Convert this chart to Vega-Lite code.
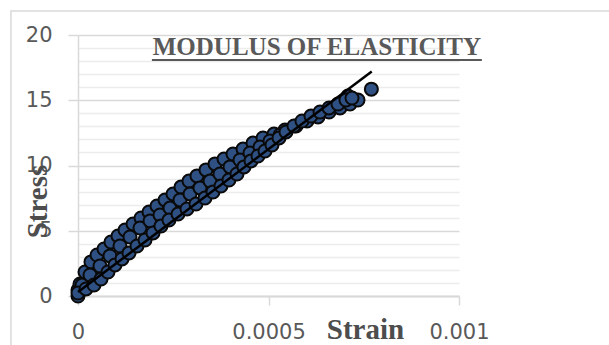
{
  "$schema": "https://vega.github.io/schema/vega-lite/v6.json",
  "autosize": {"type": "none"},
  "padding": {"left": 78, "top": 35, "right": 150, "bottom": 49},
  "width": 381,
  "height": 261,
  "background": "white",
  "config": {"view": {"stroke": null}},
  "datasets": {
    "points": [
      {"strain": 0, "stress": 0, "series": "upper"},
      {"strain": 0, "stress": 0.46, "series": "upper"},
      {"strain": 0.0000052, "stress": 0.92, "series": "upper"},
      {"strain": 0.0000184, "stress": 1.84, "series": "upper"},
      {"strain": 0.0000341, "stress": 2.61, "series": "upper"},
      {"strain": 0.0000499, "stress": 3.14, "series": "upper"},
      {"strain": 0.0000682, "stress": 3.6, "series": "upper"},
      {"strain": 0.0000866, "stress": 4.14, "series": "upper"},
      {"strain": 0.000105, "stress": 4.6, "series": "upper"},
      {"strain": 0.0001234, "stress": 5.06, "series": "upper"},
      {"strain": 0.0001444, "stress": 5.52, "series": "upper"},
      {"strain": 0.0001654, "stress": 5.98, "series": "upper"},
      {"strain": 0.0001864, "stress": 6.44, "series": "upper"},
      {"strain": 0.0002073, "stress": 6.9, "series": "upper"},
      {"strain": 0.0002283, "stress": 7.36, "series": "upper"},
      {"strain": 0.0002493, "stress": 7.82, "series": "upper"},
      {"strain": 0.0002703, "stress": 8.35, "series": "upper"},
      {"strain": 0.0002913, "stress": 8.81, "series": "upper"},
      {"strain": 0.0003123, "stress": 9.2, "series": "upper"},
      {"strain": 0.000336, "stress": 9.66, "series": "upper"},
      {"strain": 0.0003596, "stress": 10.12, "series": "upper"},
      {"strain": 0.0003832, "stress": 10.5, "series": "upper"},
      {"strain": 0.0004068, "stress": 10.88, "series": "upper"},
      {"strain": 0.0004331, "stress": 11.26, "series": "upper"},
      {"strain": 0.0004593, "stress": 11.72, "series": "upper"},
      {"strain": 0.0004856, "stress": 12.11, "series": "upper"},
      {"strain": 0.0005144, "stress": 12.41, "series": "upper"},
      {"strain": 0.0005433, "stress": 12.72, "series": "upper"},
      {"strain": 0.0005722, "stress": 13.03, "series": "upper"},
      {"strain": 0.000601, "stress": 13.41, "series": "upper"},
      {"strain": 0.0006299, "stress": 13.72, "series": "upper"},
      {"strain": 0.0006588, "stress": 14.1, "series": "upper"},
      {"strain": 0.0006877, "stress": 14.41, "series": "upper"},
      {"strain": 0.0007087, "stress": 15.33, "series": "upper"},
      {"strain": 0.0007139, "stress": 14.71, "series": "upper"},
      {"strain": 0.0007349, "stress": 15.02, "series": "upper"},
      {"strain": 0.00077, "stress": 15.85, "series": "upper"},
      {"strain": 0.0000105, "stress": 0.84, "series": "middle"},
      {"strain": 0.0000315, "stress": 1.61, "series": "middle"},
      {"strain": 0.0000577, "stress": 2.3, "series": "middle"},
      {"strain": 0.000084, "stress": 3.07, "series": "middle"},
      {"strain": 0.0001102, "stress": 3.83, "series": "middle"},
      {"strain": 0.0001365, "stress": 4.52, "series": "middle"},
      {"strain": 0.0001627, "stress": 5.21, "series": "middle"},
      {"strain": 0.000189, "stress": 5.75, "series": "middle"},
      {"strain": 0.0002152, "stress": 6.21, "series": "middle"},
      {"strain": 0.0002415, "stress": 6.74, "series": "middle"},
      {"strain": 0.0002677, "stress": 7.36, "series": "middle"},
      {"strain": 0.000294, "stress": 7.82, "series": "middle"},
      {"strain": 0.0003202, "stress": 8.28, "series": "middle"},
      {"strain": 0.0003465, "stress": 8.81, "series": "middle"},
      {"strain": 0.0003727, "stress": 9.35, "series": "middle"},
      {"strain": 0.000399, "stress": 9.89, "series": "middle"},
      {"strain": 0.0004252, "stress": 10.42, "series": "middle"},
      {"strain": 0.0004514, "stress": 10.96, "series": "middle"},
      {"strain": 0.0004777, "stress": 11.42, "series": "middle"},
      {"strain": 0.0005039, "stress": 11.88, "series": "middle"},
      {"strain": 0.0005302, "stress": 12.34, "series": "middle"},
      {"strain": 0, "stress": 0.23, "series": "lower"},
      {"strain": 0.000021, "stress": 0.54, "series": "lower"},
      {"strain": 0.000042, "stress": 0.84, "series": "lower"},
      {"strain": 0.0000604, "stress": 1.3, "series": "lower"},
      {"strain": 0.0000787, "stress": 1.84, "series": "lower"},
      {"strain": 0.0000971, "stress": 2.38, "series": "lower"},
      {"strain": 0.0001155, "stress": 2.84, "series": "lower"},
      {"strain": 0.0001339, "stress": 3.3, "series": "lower"},
      {"strain": 0.0001549, "stress": 3.83, "series": "lower"},
      {"strain": 0.0001759, "stress": 4.29, "series": "lower"},
      {"strain": 0.0001969, "stress": 4.83, "series": "lower"},
      {"strain": 0.0002178, "stress": 5.36, "series": "lower"},
      {"strain": 0.0002388, "stress": 5.82, "series": "lower"},
      {"strain": 0.0002625, "stress": 6.28, "series": "lower"},
      {"strain": 0.0002861, "stress": 6.67, "series": "lower"},
      {"strain": 0.0003097, "stress": 7.05, "series": "lower"},
      {"strain": 0.0003333, "stress": 7.51, "series": "lower"},
      {"strain": 0.0003543, "stress": 7.97, "series": "lower"},
      {"strain": 0.0003753, "stress": 8.43, "series": "lower"},
      {"strain": 0.0003963, "stress": 8.89, "series": "lower"},
      {"strain": 0.0004173, "stress": 9.35, "series": "lower"},
      {"strain": 0.0004357, "stress": 9.89, "series": "lower"},
      {"strain": 0.0004541, "stress": 10.35, "series": "lower"},
      {"strain": 0.0004724, "stress": 10.73, "series": "lower"},
      {"strain": 0.0004908, "stress": 11.11, "series": "lower"},
      {"strain": 0.0005092, "stress": 11.57, "series": "lower"},
      {"strain": 0.0005276, "stress": 12.11, "series": "lower"},
      {"strain": 0.0005459, "stress": 12.57, "series": "lower"},
      {"strain": 0.0005669, "stress": 13.03, "series": "lower"},
      {"strain": 0.0005879, "stress": 13.41, "series": "lower"},
      {"strain": 0.0006115, "stress": 13.79, "series": "lower"},
      {"strain": 0.0006352, "stress": 14.1, "series": "lower"},
      {"strain": 0.0006588, "stress": 14.41, "series": "lower"},
      {"strain": 0.0006824, "stress": 14.71, "series": "lower"},
      {"strain": 0.0007034, "stress": 15.02, "series": "lower"},
      {"strain": 0.0007192, "stress": 15.17, "series": "lower"}
    ],
    "trend": [
      {"strain": 0, "stress": 0.3},
      {"strain": 0.000771, "stress": 17.2}
    ],
    "single": [{}]
  },
  "layer": [
    {
      "data": {"name": "points"},
      "mark": {"type": "point", "shape": "circle", "filled": true, "size": 170, "fill": "#2f5082", "stroke": "#0a0a0a", "strokeWidth": 2, "opacity": 1},
      "encoding": {
        "x": {
          "field": "strain", "type": "quantitative",
          "scale": {"domain": [0, 0.001], "nice": false, "zero": false},
          "axis": {
            "values": [0, 0.0005, 0.001],
            "tickCount": 3,
            "format": "~g",
            "grid": false,
            "domainColor": "#d9d9d9",
            "domainWidth": 2,
            "tickColor": "#d9d9d9",
            "tickWidth": 1.5,
            "tickSize": 9,
            "labelFont": "DejaVu Sans",
            "labelFontSize": 21,
            "labelColor": "#595959",
            "labelPadding": 16,
            "labelFlush": false,
            "labelOverlap": false,
            "title": "Strain",
            "titleFont": "Liberation Serif",
            "titleFontWeight": "bold",
            "titleFontSize": 29,
            "titleColor": "#4d4d4d",
            "titleX": 287,
            "titleY": 42,
            "titleAlign": "center",
            "titleBaseline": "alphabetic"
          }
        },
        "y": {
          "field": "stress", "type": "quantitative",
          "scale": {"domain": [0, 20], "nice": false},
          "axis": {
            "values": [0, 1, 2, 3, 4, 5, 6, 7, 8, 9, 10, 11, 12, 13, 14, 15, 16, 17, 18, 19, 20],
            "tickCount": 40,
            "format": "d",
            "labelExpr": "datum.value % 5 === 0 ? datum.label : ''",
            "labelOverlap": false,
            "grid": true,
            "gridColor": {"condition": {"test": "datum.value % 5 === 0", "value": "#d9d9d9"}, "value": "#ececec"},
            "gridWidth": 1.5,
            "domainColor": "#d9d9d9",
            "domainWidth": 1.5,
            "tickColor": "#d9d9d9",
            "tickOpacity": {"condition": {"test": "datum.value % 5 === 0", "value": 1}, "value": 0},
            "tickSize": 10,
            "tickWidth": 1.5,
            "labelFont": "DejaVu Sans",
            "labelFontSize": 21,
            "labelColor": "#595959",
            "labelPadding": 16,
            "labelFlush": false,
            "title": "Stress",
            "titleFont": "Liberation Serif",
            "titleFontWeight": "bold",
            "titleFontSize": 29,
            "titleColor": "#4d4d4d",
            "titleAngle": -90,
            "titleX": -41,
            "titleY": 166,
            "titleAlign": "center",
            "titleBaseline": "middle"
          }
        }
      }
    },
    {
      "data": {"name": "trend"},
      "mark": {"type": "line", "color": "#000000", "strokeWidth": 2.5},
      "encoding": {
        "x": {"field": "strain", "type": "quantitative"},
        "y": {"field": "stress", "type": "quantitative"}
      }
    },
    {
      "data": {"name": "single"},
      "mark": {"type": "rect", "fill": null, "stroke": "#d9d9d9", "strokeWidth": 1.5, "clip": false},
      "encoding": {
        "x": {"datum": -0.000176, "type": "quantitative"},
        "x2": {"datum": 0.0016},
        "y": {"datum": 21.84, "type": "quantitative"},
        "y2": {"datum": -5}
      }
    },
    {
      "data": {"name": "single"},
      "mark": {"type": "text", "text": "MODULUS OF ELASTICITY", "font": "Liberation Serif", "fontWeight": "bold", "fontSize": 25, "color": "#595959", "align": "center", "baseline": "alphabetic"},
      "encoding": {
        "x": {"datum": 0.000627, "type": "quantitative"},
        "y": {"datum": 18.47, "type": "quantitative"}
      }
    },
    {
      "data": {"name": "single"},
      "mark": {"type": "rule", "color": "#595959", "strokeWidth": 2, "clip": false},
      "encoding": {
        "x": {"datum": 0.000194, "type": "quantitative"},
        "x2": {"datum": 0.00106},
        "y": {"datum": 18.08, "type": "quantitative"}
      }
    }
  ]
}
